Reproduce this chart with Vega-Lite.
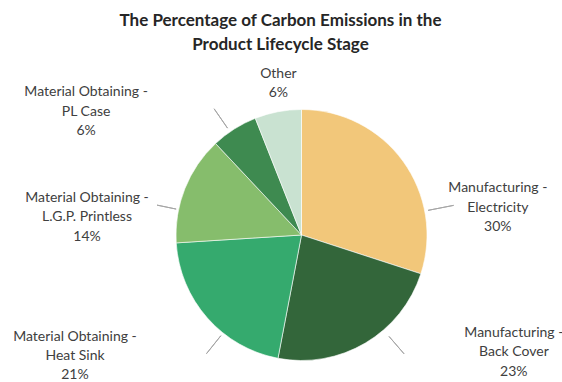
{
  "$schema": "https://vega.github.io/schema/vega-lite/v6.json",
  "width": 521,
  "height": 294,
  "autosize": {"type": "none"},
  "padding": {"left": 41, "top": 88, "right": 0, "bottom": 0},
  "background": "#ffffff",
  "config": {"view": {"stroke": null}},
  "title": {
    "text": ["The Percentage of Carbon Emissions in the", "Product Lifecycle Stage"],
    "font": "Lato",
    "fontSize": 17,
    "fontWeight": "bold",
    "color": "#262626",
    "anchor": "middle",
    "dx": -21,
    "offset": 13,
    "lineHeight": 24
  },
  "data": {
    "values": [
      {"category": "Manufacturing - Electricity", "value": 30},
      {"category": "Manufacturing - Back Cover", "value": 23},
      {"category": "Material Obtaining - Heat Sink", "value": 21},
      {"category": "Material Obtaining - L.G.P. Printless", "value": 14},
      {"category": "Material Obtaining - PL Case", "value": 6},
      {"category": "Other", "value": 6}
    ]
  },
  "transform": [
    {"stack": "value", "groupby": [], "as": ["v0", "v1"]},
    {"calculate": "(datum.v0 + datum.v1) / 2", "as": "mid"},
    {"calculate": "datum.category === 'Other' ? ['Other', datum.value + '%'] : [slice(datum.category, 0, indexof(datum.category, ' - ') + 2), slice(datum.category, indexof(datum.category, ' - ') + 3), datum.value + '%']", "as": "label"}
  ],
  "layer": [
    {
      "mark": {"type": "arc", "outerRadius": 125.5, "stroke": "#ffffff", "strokeWidth": 0.6},
      "encoding": {
        "theta": {"field": "v0", "type": "quantitative", "stack": null, "scale": {"domain": [0, 100]}},
        "theta2": {"field": "v1"},
        "color": {
          "field": "category",
          "type": "nominal",
          "legend": null,
          "scale": {
            "domain": ["Manufacturing - Electricity", "Manufacturing - Back Cover", "Material Obtaining - Heat Sink", "Material Obtaining - L.G.P. Printless", "Material Obtaining - PL Case", "Other"],
            "range": ["#F2C77A", "#33663A", "#35AA6E", "#86BD6C", "#3E8A50", "#C9E2D1"]
          }
        }
      }
    },
    {
      "transform": [{"filter": "datum.category === 'Manufacturing - Electricity'"}],
      "mark": {"type": "arc", "radius": 155, "radius2": 129, "thetaOffset": 0.436, "theta2Offset": 0.436, "filled": false, "stroke": "#A6A6A6", "strokeWidth": 1},
      "encoding": {
        "theta": {"field": "mid", "type": "quantitative", "stack": null, "scale": {"domain": [0, 100]}},
        "theta2": {"field": "mid"}
      }
    },
    {
      "transform": [{"filter": "datum.category === 'Manufacturing - Back Cover'"}],
      "mark": {"type": "arc", "radius": 157, "radius2": 134, "thetaOffset": -0.178, "theta2Offset": -0.178, "filled": false, "stroke": "#A6A6A6", "strokeWidth": 1},
      "encoding": {
        "theta": {"field": "mid", "type": "quantitative", "stack": null, "scale": {"domain": [0, 100]}},
        "theta2": {"field": "mid"}
      }
    },
    {
      "transform": [{"filter": "datum.category === 'Material Obtaining - Heat Sink'"}],
      "mark": {"type": "arc", "radius": 152, "radius2": 129, "thetaOffset": -0.173, "theta2Offset": -0.173, "filled": false, "stroke": "#A6A6A6", "strokeWidth": 1},
      "encoding": {
        "theta": {"field": "mid", "type": "quantitative", "stack": null, "scale": {"domain": [0, 100]}},
        "theta2": {"field": "mid"}
      }
    },
    {
      "transform": [{"filter": "datum.category === 'Material Obtaining - L.G.P. Printless'"}],
      "mark": {"type": "arc", "radius": 147.5, "radius2": 128, "thetaOffset": -0.173, "theta2Offset": -0.173, "filled": false, "stroke": "#A6A6A6", "strokeWidth": 1},
      "encoding": {
        "theta": {"field": "mid", "type": "quantitative", "stack": null, "scale": {"domain": [0, 100]}},
        "theta2": {"field": "mid"}
      }
    },
    {
      "transform": [{"filter": "datum.category === 'Material Obtaining - PL Case'"}],
      "mark": {"type": "arc", "radius": 153.5, "radius2": 130, "thetaOffset": -0.04, "theta2Offset": -0.04, "filled": false, "stroke": "#A6A6A6", "strokeWidth": 1},
      "encoding": {
        "theta": {"field": "mid", "type": "quantitative", "stack": null, "scale": {"domain": [0, 100]}},
        "theta2": {"field": "mid"}
      }
    },
    {
      "transform": [{"filter": "datum.category === 'Manufacturing - Electricity'"}],
      "mark": {"type": "text", "radius": 150, "dx": 75, "dy": 41.5, "font": "Lato", "fontSize": 14, "color": "#404040", "align": "center", "baseline": "middle", "lineHeight": 19.5},
      "encoding": {
        "theta": {"field": "mid", "type": "quantitative", "stack": null, "scale": {"domain": [0, 100]}},
        "text": {"field": "label"}
      }
    },
    {
      "transform": [{"filter": "datum.category === 'Manufacturing - Back Cover'"}],
      "mark": {"type": "text", "radius": 150, "dx": 136, "dy": -31.5, "font": "Lato", "fontSize": 14, "color": "#404040", "align": "center", "baseline": "middle", "lineHeight": 19.5},
      "encoding": {
        "theta": {"field": "mid", "type": "quantitative", "stack": null, "scale": {"domain": [0, 100]}},
        "text": {"field": "label"}
      }
    },
    {
      "transform": [{"filter": "datum.category === 'Material Obtaining - Heat Sink'"}],
      "mark": {"type": "text", "radius": 150, "dx": -114, "dy": 3, "font": "Lato", "fontSize": 14, "color": "#404040", "align": "center", "baseline": "middle", "lineHeight": 19},
      "encoding": {
        "theta": {"field": "mid", "type": "quantitative", "stack": null, "scale": {"domain": [0, 100]}},
        "text": {"field": "label"}
      }
    },
    {
      "transform": [{"filter": "datum.category === 'Material Obtaining - L.G.P. Printless'"}],
      "mark": {"type": "text", "radius": 150, "dx": -75, "dy": 18, "font": "Lato", "fontSize": 14, "color": "#404040", "align": "center", "baseline": "middle", "lineHeight": 19.5},
      "encoding": {
        "theta": {"field": "mid", "type": "quantitative", "stack": null, "scale": {"domain": [0, 100]}},
        "text": {"field": "label"}
      }
    },
    {
      "transform": [{"filter": "datum.category === 'Material Obtaining - PL Case'"}],
      "mark": {"type": "text", "radius": 150, "dx": -135, "dy": -16, "font": "Lato", "fontSize": 14, "color": "#404040", "align": "center", "baseline": "middle", "lineHeight": 19.5},
      "encoding": {
        "theta": {"field": "mid", "type": "quantitative", "stack": null, "scale": {"domain": [0, 100]}},
        "text": {"field": "label"}
      }
    },
    {
      "transform": [{"filter": "datum.category === 'Other'"}],
      "mark": {"type": "text", "radius": 150, "dx": 5, "dy": -14, "font": "Lato", "fontSize": 14, "color": "#404040", "align": "center", "baseline": "middle", "lineHeight": 19.5},
      "encoding": {
        "theta": {"field": "mid", "type": "quantitative", "stack": null, "scale": {"domain": [0, 100]}},
        "text": {"field": "label"}
      }
    }
  ]
}
